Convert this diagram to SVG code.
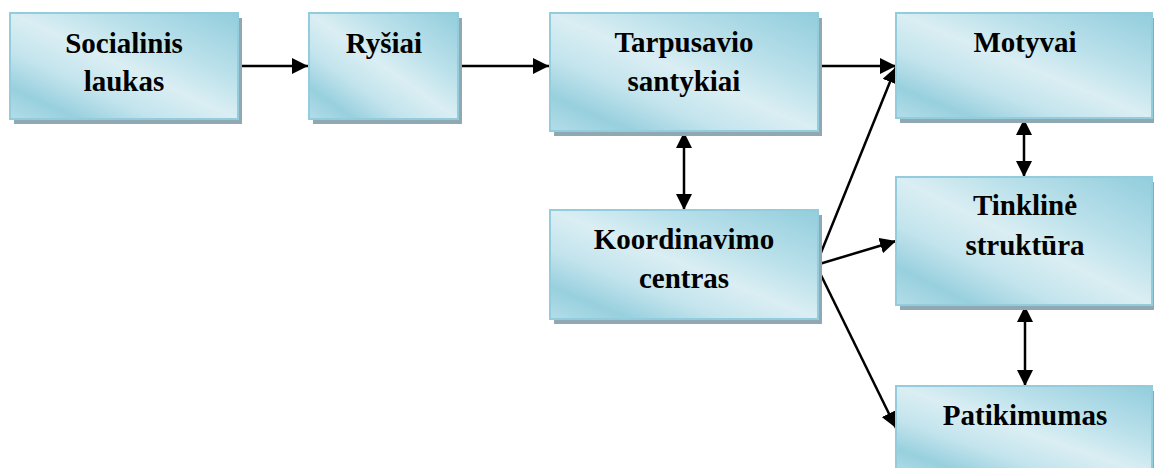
<svg xmlns="http://www.w3.org/2000/svg" width="1154" height="468" viewBox="0 0 1154 468">
<defs>
<linearGradient id="g" x1="1" y1="0" x2="0" y2="1">
<stop offset="0" stop-color="#92cddc"/>
<stop offset="0.3" stop-color="#b9e0ea"/>
<stop offset="0.5" stop-color="#daeef3"/>
<stop offset="0.68" stop-color="#c3e4ed"/>
<stop offset="0.85" stop-color="#98d0de"/>
<stop offset="1" stop-color="#b3dde8"/>
</linearGradient>
<marker id="ah" markerUnits="userSpaceOnUse" markerWidth="17" markerHeight="16" refX="16" refY="8" orient="auto-start-reverse">
<path d="M0,0 L16,8 L0,16 z" fill="#000"/>
</marker>
<style>
.sh{fill:#8fa8b2}
.bx{fill:url(#g);stroke:#93cddd;stroke-width:2}
.t{font-family:"Liberation Serif","Times New Roman",serif;font-weight:bold;font-size:29px;fill:#000;text-anchor:middle}
.c{stroke:#000;stroke-width:2.5;fill:none}
</style>
</defs>
<g id="connectors">
<line class="c" x1="238" y1="66" x2="308" y2="66" marker-end="url(#ah)"/>
<line class="c" x1="458" y1="66" x2="549" y2="66" marker-end="url(#ah)"/>
<line class="c" x1="818" y1="66" x2="896" y2="66" marker-end="url(#ah)"/>
<line class="c" x1="816" y1="265" x2="896" y2="67" marker-end="url(#ah)"/>
<line class="c" x1="816" y1="265" x2="896" y2="241" marker-end="url(#ah)"/>
<line class="c" x1="816" y1="265" x2="896" y2="428" marker-end="url(#ah)"/>
<line class="c" x1="684" y1="132" x2="684" y2="210" marker-start="url(#ah)" marker-end="url(#ah)"/>
<line class="c" x1="1024" y1="119" x2="1024" y2="177" marker-start="url(#ah)" marker-end="url(#ah)"/>
<line class="c" x1="1025" y1="306" x2="1025" y2="386" marker-start="url(#ah)" marker-end="url(#ah)"/>
</g>
<g id="socialinis">
<rect class="sh" x="14" y="18" width="228" height="106"/>
<rect class="bx" x="10" y="13" width="228" height="106"/>
<text class="t" x="124" y="53">Socialinis</text>
<text class="t" x="124" y="91">laukas</text>
</g>
<g id="rysiai">
<rect class="sh" x="313" y="18" width="149" height="106"/>
<rect class="bx" x="309" y="13" width="149" height="106"/>
<text class="t" x="384" y="53">Ryšiai</text>
</g>
<g id="tarpusavio">
<rect class="sh" x="554" y="18" width="268" height="118"/>
<rect class="bx" x="550" y="13" width="268" height="118"/>
<text class="t" x="684" y="52">Tarpusavio</text>
<text class="t" x="684" y="91">santykiai</text>
</g>
<g id="motyvai">
<rect class="sh" x="900" y="18" width="256" height="105"/>
<rect class="bx" x="896" y="13" width="256" height="105"/>
<text class="t" x="1025" y="52">Motyvai</text>
</g>
<g id="koordinavimo">
<rect class="sh" x="554" y="215" width="268" height="109"/>
<rect class="bx" x="550" y="210" width="268" height="109"/>
<text class="t" x="684" y="249">Koordinavimo</text>
<text class="t" x="684" y="288">centras</text>
</g>
<g id="tinkline">
<rect class="sh" x="900" y="182" width="256" height="128"/>
<rect class="bx" x="896" y="177" width="256" height="128"/>
<text class="t" x="1025" y="215">Tinklinė</text>
<text class="t" x="1025" y="255">struktūra</text>
</g>
<g id="patikimumas">
<rect class="sh" x="900" y="391" width="256" height="90"/>
<rect class="bx" x="896" y="386" width="256" height="90"/>
<text class="t" x="1025" y="425">Patikimumas</text>
</g>
</svg>
